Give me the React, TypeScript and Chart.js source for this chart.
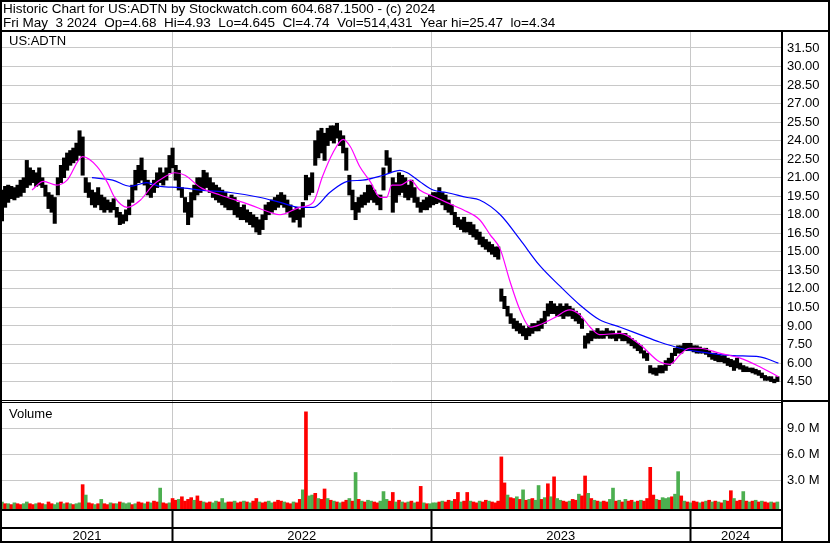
import { useEffect, useRef } from 'react';
import { Chart, registerables } from 'chart.js';

Chart.register(...registerables);

const headerLine1 = 'Historic Chart for US:ADTN by Stockwatch.com 604.687.1500 - (c) 2024';
const headerLine2 = 'Fri May  3 2024  Op=4.68  Hi=4.93  Lo=4.645  Cl=4.74  Vol=514,431  Year hi=25.47  lo=4.34';
const symbolLabel = 'US:ADTN';
const volumeLabel = 'Volume';

// one sample every 3 trading days
const SAMPLE_STEP = 3;
const priceHigh = [
  20.0, 20.3, 20.4, 20.3, 20.2, 20.4, 20.8, 21.0, 22.4, 21.8,
  21.6, 21.4, 21.8, 21.0, 20.4, 19.8, 19.6, 19.4, 21.0, 22.0,
  22.6, 23.0, 23.2, 23.4, 23.8, 24.8, 24.3, 21.0, 20.6, 20.0,
  19.8, 20.2, 19.6, 19.4, 19.2, 19.0, 19.3, 18.6, 18.2, 18.0,
  18.4, 19.2, 20.4, 21.6, 22.0, 22.6, 21.6, 20.8, 20.4, 20.8,
  21.4, 21.8, 21.4, 21.8, 22.8, 23.4, 22.0, 21.6, 20.2, 19.4,
  19.0, 19.8, 20.4, 21.0, 21.0, 21.6, 21.4, 21.0, 20.6, 20.4,
  20.2, 20.0, 19.8, 19.4, 19.6, 19.4, 19.0, 18.6, 18.8, 18.4,
  18.2, 18.0, 17.8, 17.6, 18.0, 18.8, 19.0, 19.2, 19.4, 19.6,
  19.8, 19.6, 19.2, 18.8, 18.4, 18.6, 18.4, 19.0, 21.2, 21.0,
  21.4, 24.0, 24.8, 25.0, 24.6, 25.0, 25.2, 25.2, 25.4, 24.8,
  24.4, 23.4, 21.2, 20.0, 19.0, 19.4, 19.6, 19.8, 20.4, 20.4,
  20.0, 19.6, 19.6, 21.8, 23.2, 22.6, 21.0, 20.6, 21.4, 21.2,
  21.0, 20.4, 20.8, 20.2, 19.4, 19.0, 19.2, 19.4, 19.6, 19.8,
  19.8, 20.2, 19.8, 19.6, 19.2, 18.8, 18.2, 17.8, 17.6, 17.8,
  17.4, 17.4, 17.2, 16.8, 16.6, 16.2, 16.0, 15.8, 15.6, 15.4,
  15.4, 12.0, 11.4, 10.6, 10.0, 9.6, 9.4, 9.2, 9.0, 8.8,
  9.0, 9.2, 9.2, 9.4, 9.6, 10.2, 10.8, 11.0, 10.8, 10.6,
  10.8, 10.6, 10.8, 10.6, 10.4, 10.2, 10.0, 9.6, 8.2, 8.4,
  8.6, 8.6, 8.8, 8.6, 8.6, 8.8, 8.6, 8.6, 8.4, 8.6,
  8.4, 8.4, 8.2, 8.0, 7.8, 7.6, 7.4, 7.0, 6.8, 5.8,
  5.6, 5.6, 5.8, 5.8, 6.2, 6.4, 6.8, 7.2, 7.4, 7.4,
  7.6, 7.6, 7.6, 7.4, 7.4, 7.3, 7.2, 7.2, 7.0, 6.8,
  6.8, 6.7, 6.6, 6.6, 6.4, 6.3, 6.2, 6.4, 6.0, 5.8,
  5.7, 5.6, 5.6, 5.5, 5.4, 5.2, 5.0, 4.9, 4.9, 4.7, 4.9,
];
const priceLow = [
  17.5, 18.6, 19.0, 19.3, 19.2, 19.4, 19.5, 19.8, 20.2, 20.4,
  20.6, 20.3, 20.4, 20.2, 19.5, 18.5, 18.2, 17.3, 19.6, 20.6,
  21.0, 21.6, 22.0, 22.2, 22.4, 22.8, 21.2, 19.8, 19.4, 18.8,
  18.6, 18.8, 18.4, 18.2, 18.4, 18.2, 18.4, 17.8, 17.2, 17.3,
  17.5, 18.0, 19.0, 20.0, 20.6, 20.8, 20.4, 19.6, 19.4, 19.8,
  20.2, 20.6, 20.4, 20.8, 21.4, 21.8, 20.8, 20.0, 19.4, 18.2,
  17.2, 17.8, 19.2, 19.6, 19.8, 20.0, 20.2, 19.8, 19.4, 19.2,
  19.0, 18.8, 18.6, 18.4, 18.4, 18.0, 17.8, 17.6, 17.6, 17.4,
  17.2, 17.0, 16.6, 16.4, 16.8, 17.6, 18.0, 18.2, 18.4, 18.6,
  18.8, 18.6, 18.2, 17.8, 17.4, 17.6, 17.0, 17.8, 19.2, 19.6,
  19.8, 22.0, 22.6, 23.0, 22.4, 23.6, 24.0, 23.8, 24.2, 23.6,
  23.0, 21.6, 19.6, 18.4, 17.6, 18.2, 18.6, 18.8, 19.0, 19.2,
  19.0, 18.8, 18.4, 20.0, 22.0, 21.4, 18.2, 19.0, 19.6, 19.8,
  19.4, 19.2, 19.4, 19.0, 18.6, 18.2, 18.4, 18.4, 18.6, 18.8,
  18.9, 19.0, 18.8, 18.4, 18.2, 18.0, 17.2, 17.0, 16.8, 16.6,
  16.6, 16.4, 16.2, 16.0, 15.6, 15.4, 15.2, 15.0, 14.8, 14.6,
  14.4, 11.0, 10.4, 9.8, 9.2, 8.8, 8.6, 8.4, 8.2, 7.9,
  8.2, 8.4, 8.6, 8.6, 8.8, 9.2, 9.8, 10.0, 10.0, 9.8,
  9.8, 9.6, 9.8, 9.8, 9.6, 9.4, 9.2, 8.8, 7.2, 7.6,
  7.8, 8.0, 8.0, 8.0, 8.0, 8.2, 8.0, 8.0, 7.8, 8.0,
  7.8, 7.8, 7.6, 7.4, 7.2, 7.0, 6.8, 6.4, 6.2, 5.2,
  5.1, 5.0, 5.2, 5.2, 5.4, 5.8, 6.0, 6.6, 6.8, 6.8,
  7.0, 7.0, 7.0, 6.9, 6.8, 6.8, 6.8, 6.7, 6.5, 6.3,
  6.2, 6.1, 6.1, 6.0, 5.8, 5.7, 5.4, 5.6, 5.5, 5.3,
  5.3, 5.3, 5.2, 5.1, 5.0, 4.8, 4.6, 4.6, 4.5, 4.4, 4.5,
];
// volume in millions of shares
const volumeM = [
  0.5, 0.3, 0.3, 0.2, 0.4, 0.3, 0.2, 0.3, 0.5, 0.3,
  0.2, 0.3, 0.4, 0.3, 0.2, 0.5, 0.3, 0.2, 0.4, 0.5,
  0.3, 0.4, 0.3, 0.2, 0.3, 0.4, 2.5, 1.3, 0.4, 0.3,
  0.2, 0.3, 0.8, 0.3, 0.2, 0.4, 0.3, 0.3, 0.5, 0.4,
  0.3, 0.4, 0.2, 0.3, 0.5, 0.4, 0.3, 0.5, 0.4, 0.6,
  0.5, 2.1, 0.4, 0.3, 0.4, 0.9, 0.7, 0.8, 1.1, 0.6,
  0.8, 1.0, 0.7, 1.2, 0.6, 0.5, 0.4, 0.5, 0.4, 0.6,
  0.5, 0.9, 0.4, 0.5, 0.5, 0.6, 0.4, 0.5, 0.6, 0.5,
  0.4, 0.6, 0.9, 0.5, 0.4, 0.5, 0.6, 0.4, 0.5, 0.7,
  0.6, 0.5, 0.4, 0.3, 0.5, 0.4, 0.8, 1.9, 10.9, 1.2,
  1.3, 1.5, 0.9, 0.8, 2.0, 0.9, 0.7, 0.6, 0.5, 0.4,
  0.5, 0.7, 0.9, 0.6, 3.9, 0.8, 0.6, 0.5, 0.7, 0.6,
  0.5, 0.4, 0.6, 1.7, 0.8, 0.6, 1.6, 0.5, 0.7, 0.5,
  0.4, 0.5, 0.6, 0.4, 0.5, 2.3, 0.4, 0.3, 0.3, 0.4,
  0.4, 0.5, 0.6, 0.5, 0.7, 0.6, 0.8, 1.6, 0.5, 0.6,
  1.6, 0.6, 0.5, 0.4, 0.6, 0.5, 0.7, 0.6, 0.5, 0.4,
  0.6, 5.7, 2.7, 1.3, 1.0, 0.9, 1.1, 0.8, 1.9, 0.7,
  0.8, 0.9, 0.7, 2.4, 0.8, 1.0, 2.6, 1.1, 3.4, 0.9,
  0.7, 0.6, 0.5, 0.6, 0.8, 0.7, 1.4, 1.2, 3.5, 1.5,
  0.9, 0.7, 0.6, 0.5, 0.6, 0.5, 0.8, 2.1, 0.6, 0.7,
  0.5, 0.8, 0.6, 0.7, 0.5, 0.6, 0.7, 0.6, 0.9, 4.5,
  1.3, 0.8, 0.7, 1.0, 0.9, 1.0, 1.1, 1.4, 4.0, 1.2,
  0.6, 0.5, 0.4, 0.6, 0.5, 0.4, 0.5, 0.6, 0.7, 0.5,
  0.6, 0.5, 0.4, 0.7, 0.6, 1.8, 0.9, 0.6, 0.7, 1.7,
  0.6, 0.5, 0.6, 0.7, 0.5, 0.6, 0.5, 0.4, 0.5, 0.4, 0.5,
];
// u = up day (green), d = down day (red), one letter per volume sample
const volumeDirection = `
  ududu dduud  duddu dduud  ududu ududd  ududd ududu  uudud dudud
  duddu ddudd  ddudd udduu  duudd uddud  uddud duudd  duddu ddudu
  ududd ududu  ddudu duduu  dduuu ddudu  dudud duduu  ududd uddud
  duddu ddudd  dddud dudud  uduud ududu  uddud duddu  dudud duudu
  duddu duddd  duduu uduud  ududd ududu  dudud duddu  dudud uddudu
`.replace(/\s/g, '');

// short moving average (magenta), day index -> value
const maFastDays = [29, 40, 53, 63, 78, 92, 102, 109, 121, 134, 146, 156, 167, 177, 192, 211, 240, 259, 269, 288, 301, 310, 320, 330, 337, 346, 356, 366, 372, 377, 385, 395, 404, 417, 430, 446, 462, 472, 482, 491, 501, 511, 520, 535, 549, 559, 569, 578, 598, 617, 636, 646, 656, 665, 675, 694, 714, 733, 751];
const maFastValues = [20.0, 20.7, 20.4, 20.8, 22.7, 21.9, 20.6, 19.4, 18.6, 19.2, 20.4, 21.0, 21.4, 21.2, 20.2, 19.6, 18.8, 18.2, 18.0, 18.6, 19.0, 21.1, 23.0, 24.1, 23.5, 21.9, 20.7, 19.4, 19.4, 20.4, 20.4, 20.8, 20.0, 19.5, 19.0, 18.4, 17.6, 16.4, 15.2, 12.7, 10.3, 8.9, 9.1, 9.7, 10.3, 9.9, 8.9, 8.3, 8.4, 7.5, 6.1, 5.9, 6.7, 7.2, 7.2, 6.8, 6.4, 5.7, 4.9];
// long moving average (blue)
const maSlowDays = [87, 107, 124, 140, 153, 172, 192, 221, 250, 269, 288, 301, 317, 334, 349, 369, 385, 392, 404, 417, 430, 450, 462, 482, 501, 520, 540, 559, 578, 598, 617, 636, 656, 675, 707, 733, 751];
const maSlowValues = [21.0, 20.8, 20.3, 20.6, 20.3, 20.2, 20.0, 19.8, 19.4, 19.0, 18.6, 18.6, 19.8, 20.7, 20.8, 21.2, 21.6, 21.4, 20.7, 20.0, 19.8, 19.4, 19.2, 18.0, 16.0, 13.9, 12.2, 10.7, 9.5, 8.9, 8.3, 7.7, 7.2, 6.9, 6.6, 6.5, 6.0];

const priceTicks = [4.5, 6, 7.5, 9, 10.5, 12, 13.5, 15, 16.5, 18, 19.5, 21, 22.5, 24, 25.5, 27, 28.5, 30, 31.5];
const volumeTicks = [3, 6, 9];
const yearLabels = ['2021', '2022', '2023', '2024'];
const yearBoundaryDays = [164.5, 415.5, 665.5];
const DAY_MIN = 0;
const DAY_MAX = 753.5;

const FONT = 'Arial, "Liberation Sans", sans-serif';
const GRID = '#c8c8c8';
const UP = '#4caf50';
const DOWN = '#ff0000';

const framePlugin = {
  id: 'frame',
  afterDraw(chart: any) {
    const { ctx, chartArea } = chart;
    const W = chart.width;
    const H = chart.height;
    const split = chart.scales.yv.top;
    const bandTop = chart.scales.xl.top;
    ctx.save();
    ctx.fillStyle = '#000';
    ctx.fillRect(0, 0, W, 2);
    ctx.fillRect(0, H - 2, W, 2);
    ctx.fillRect(0, 0, 2, H);
    ctx.fillRect(W - 2, 0, 2, H);
    ctx.fillRect(0, chartArea.top - 2, W, 2);
    ctx.fillRect(chartArea.right, chartArea.top - 2, 2, H - chartArea.top + 2);
    ctx.fillRect(0, split - 1, chartArea.right, 1);
    ctx.fillRect(0, split + 1, chartArea.right, 1);
    ctx.fillRect(chartArea.right, split - 1, W - chartArea.right, 2);
    ctx.fillRect(0, chartArea.bottom, chartArea.right, 2);
    ctx.fillRect(0, bandTop, chartArea.right, 2);
    ctx.textBaseline = 'alphabetic';
    ctx.textAlign = 'left';
    ctx.font = `13.5px ${FONT}`;
    ctx.fillText(headerLine1, 3, 12.5);
    ctx.fillText(headerLine2, 3, 26.5);
    ctx.font = `13px ${FONT}`;
    ctx.fillText(symbolLabel, 9, 45);
    ctx.fillText(volumeLabel, 9, 418);
    ctx.restore();
  },
};

export default function App() {
  const ref = useRef<HTMLCanvasElement>(null);
  useEffect(() => {
    const canvas = ref.current;
    if (!canvas) return;
    const priceBars = priceHigh.map((h, i) => ({ x: i * SAMPLE_STEP, y: [priceLow[i], h] }));
    const volBars = volumeM.map((v, i) => ({ x: i * SAMPLE_STEP, y: v }));
    const volColors = volumeM.map((_, i) => (volumeDirection[i] === 'd' ? DOWN : UP));
    const yearMids = yearLabels.map((_, i) => {
      const a = i === 0 ? DAY_MIN : yearBoundaryDays[i - 1];
      const b = i === yearLabels.length - 1 ? DAY_MAX : yearBoundaryDays[i];
      return (a + b) / 2;
    });
    const tickFont = { family: FONT, size: 13 };
    const chart = new Chart(canvas, {
      type: 'bar',
      data: {
        datasets: [
          {
            type: 'line',
            data: maFastDays.map((d, i) => ({ x: d, y: maFastValues[i] })),
            borderColor: '#ff00ff',
            borderWidth: 1.2,
            pointRadius: 0,
            tension: 0.4,
            cubicInterpolationMode: 'monotone',
            xAxisID: 'x',
            yAxisID: 'y',
            order: 0,
          } as any,
          {
            type: 'line',
            data: maSlowDays.map((d, i) => ({ x: d, y: maSlowValues[i] })),
            borderColor: '#0000ff',
            borderWidth: 1.2,
            pointRadius: 0,
            tension: 0.4,
            cubicInterpolationMode: 'monotone',
            xAxisID: 'x',
            yAxisID: 'y',
            order: 0,
          } as any,
          {
            type: 'bar',
            data: priceBars as any,
            backgroundColor: '#000',
            barThickness: 3.4,
            grouped: false,
            xAxisID: 'x',
            yAxisID: 'y',
            order: 1,
          } as any,
          {
            type: 'bar',
            data: volBars as any,
            backgroundColor: volColors,
            barThickness: 3,
            grouped: false,
            base: -0.31,
            xAxisID: 'x',
            yAxisID: 'yv',
            order: 1,
          } as any,
        ],
      },
      options: {
        responsive: false,
        animation: false,
        devicePixelRatio: 1,
        events: [],
        layout: { padding: { top: 32, left: 2, right: 0, bottom: 0 } },
        plugins: { legend: { display: false }, tooltip: { enabled: false }, title: { display: false } },
        scales: {
          x: {
            type: 'linear',
            position: 'bottom',
            weight: 0,
            min: DAY_MIN,
            max: DAY_MAX,
            offset: false,
            afterBuildTicks: (s: any) => { s.ticks = yearBoundaryDays.map((v) => ({ value: v })); },
            afterFit: (s: any) => { s.height = 18; },
            ticks: { display: false },
            grid: { color: GRID, lineWidth: 1, offset: false, drawTicks: true, tickLength: 32, tickWidth: 2, tickColor: '#000' },
            border: { display: false },
          },
          xl: {
            type: 'linear',
            position: 'bottom',
            weight: 1,
            min: DAY_MIN,
            max: DAY_MAX,
            offset: false,
            afterBuildTicks: (s: any) => { s.ticks = yearMids.map((v) => ({ value: v })); },
            afterFit: (s: any) => { s.height = 16; },
            ticks: { autoSkip: false, maxRotation: 0, padding: 2, color: '#000', font: tickFont, callback: (_v: any, i: number) => yearLabels[i] },
            grid: { display: false, drawTicks: false },
            border: { display: false },
          },
          y: {
            type: 'linear',
            position: 'right',
            stack: 'v',
            stackWeight: 369,
            min: 2.93,
            max: 32.79,
            afterBuildTicks: (s: any) => { s.ticks = priceTicks.map((v) => ({ value: v })); },
            afterFit: (s: any) => { s.width = 49; },
            ticks: { autoSkip: false, padding: 6, color: '#000', font: tickFont, callback: (v: any) => Number(v).toFixed(2) },
            grid: { color: GRID, lineWidth: 1, drawTicks: false },
            border: { display: false },
          },
          yv: {
            type: 'linear',
            position: 'right',
            stack: 'v',
            stackWeight: 108,
            min: -0.31,
            max: 12.15,
            afterBuildTicks: (s: any) => { s.ticks = volumeTicks.map((v) => ({ value: v })); },
            afterFit: (s: any) => { s.width = 49; },
            ticks: { autoSkip: false, padding: 6, color: '#000', font: tickFont, callback: (v: any) => `${Number(v).toFixed(1)} M` },
            grid: { color: GRID, lineWidth: 1, drawTicks: false },
            border: { display: false },
          },
        },
      } as any,
      plugins: [framePlugin],
    });
    return () => chart.destroy();
  }, []);
  return (
    <div style={{ position: 'fixed', left: 0, top: 0, width: 830, height: 543, background: '#fff' }}>
      <canvas ref={ref} width={830} height={543} style={{ display: 'block', width: 830, height: 543 }} />
    </div>
  );
}
